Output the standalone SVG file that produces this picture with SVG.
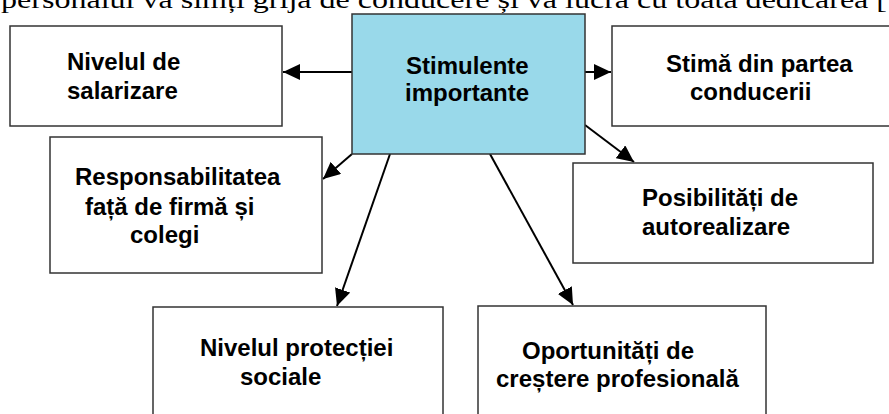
<svg xmlns="http://www.w3.org/2000/svg" width="889" height="414" viewBox="0 0 889 414">
<style>
.box{fill:#fff;stroke:#333;stroke-width:1.5}
.center{fill:#99D9EA;stroke:#333;stroke-width:1.5}
.lbl{font-family:"Liberation Sans",Arial,sans-serif;font-weight:bold;font-size:24px;fill:#000}
.top{font-family:"Liberation Serif","Times New Roman",serif;font-size:26px;fill:#000}
.conn{stroke:#000;stroke-width:2;fill:none;marker-end:url(#ah)}
</style>
<defs>
<marker id="ah" markerUnits="userSpaceOnUse" markerWidth="18" markerHeight="16" refX="17" refY="8" orient="auto">
<path d="M0,0 L17,8 L0,16 z" fill="#000"/>
</marker>
</defs>
<rect width="889" height="414" fill="#fff"/>
<text class="top" x="1" y="8" textLength="886" lengthAdjust="spacingAndGlyphs">personalul va simți grija de conducere și va lucra cu toată dedicarea [</text>
<g id="connectors">
<line class="conn" x1="352" y1="72" x2="283" y2="72"/>
<line class="conn" x1="585" y1="72" x2="611" y2="72"/>
<line class="conn" x1="352" y1="154" x2="323" y2="179"/>
<line class="conn" x1="390" y1="154" x2="337" y2="306"/>
<line class="conn" x1="490" y1="154" x2="573" y2="305"/>
<line class="conn" x1="585" y1="125" x2="634" y2="162"/>
</g>
<g id="n-center">
<rect class="center" x="352" y="14" width="233" height="140"/>
<text class="lbl" x="406" y="74">Stimulente</text>
<text class="lbl" x="405" y="101">importante</text>
</g>
<g id="n-salarizare">
<rect class="box" x="10" y="26" width="272" height="100"/>
<text class="lbl" x="67" y="70">Nivelul de</text>
<text class="lbl" x="67" y="99">salarizare</text>
</g>
<g id="n-stima">
<rect class="box" x="612" y="26" width="300" height="100"/>
<text class="lbl" x="666" y="72">Stimă din partea</text>
<text class="lbl" x="690" y="100">conducerii</text>
</g>
<g id="n-responsabilitate">
<rect class="box" x="50" y="137" width="272" height="136"/>
<text class="lbl" x="75" y="185">Responsabilitatea</text>
<text class="lbl" x="85" y="215">față de firmă și</text>
<text class="lbl" x="130" y="243">colegi</text>
</g>
<g id="n-posibilitati">
<rect class="box" x="573" y="163" width="300" height="100"/>
<text class="lbl" x="642" y="206">Posibilități de</text>
<text class="lbl" x="642" y="235">autorealizare</text>
</g>
<g id="n-protectie">
<rect class="box" x="153" y="307" width="290" height="130"/>
<text class="lbl" x="200" y="356">Nivelul protecției</text>
<text class="lbl" x="240" y="385">sociale</text>
</g>
<g id="n-oportunitati">
<rect class="box" x="478" y="306" width="288" height="130"/>
<text class="lbl" x="522" y="359">Oportunități de</text>
<text class="lbl" x="496" y="387">creștere profesională</text>
</g>
</svg>
